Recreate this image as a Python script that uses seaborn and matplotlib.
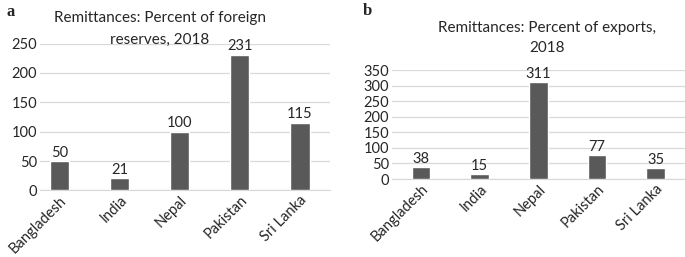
import pandas as pd
import matplotlib.pyplot as plt
import seaborn as sns

# Values
countries = ["Bangladesh", "India", "Nepal", "Pakistan", "Sri Lanka"]
pct_reserves = [50, 21, 100, 231, 115]
pct_exports = [38, 15, 311, 77, 35]

sns.set_style("white")
plt.rcParams["font.family"] = ["Lato", "DejaVu Sans"]

bar_color = "#595959"
grid_color = "#d9d9d9"
text_color = "#262626"
fs = 10.5

fig = plt.figure(figsize=(6.85, 2.57), dpi=100)
ax_a = fig.add_axes([0.0584, 0.2588, 0.4234, 0.5719])
ax_b = fig.add_axes([0.5718, 0.3035, 0.4282, 0.4241])


def draw_panel(ax, values, ymax, xmin):
    df = pd.DataFrame({"country": countries, "value": values})
    sns.barplot(data=df, x="country", y="value", ax=ax, color=bar_color,
                width=0.32, saturation=1)
    ax.set_ylim(0, ymax)
    ax.set_xlim(xmin, 4.5)
    ax.set_yticks(range(0, ymax + 1, 50))
    ax.yaxis.grid(True, color=grid_color, linewidth=0.9)
    ax.set_axisbelow(True)
    for s in ["top", "right", "left"]:
        ax.spines[s].set_visible(False)
    ax.spines["bottom"].set_color(grid_color)
    ax.spines["bottom"].set_zorder(0)
    ax.tick_params(length=0, labelsize=fs, colors=text_color, pad=2)
    ax.set_xlabel("")
    ax.set_ylabel("")
    plt.setp(ax.get_xticklabels(), rotation=45, ha="right", rotation_mode="anchor")
    for i, v in enumerate(values):
        ax.annotate(str(v), (i, v), xytext=(0, 1), textcoords="offset points",
                    ha="center", va="bottom", fontsize=fs, color=text_color)


draw_panel(ax_a, pct_reserves, 250, -0.325)
draw_panel(ax_b, pct_exports, 350, -0.5)

tfs = 11
fig.text(160 / 685, 1 - 18 / 257, "Remittances: Percent of foreign", ha="center",
         va="center", fontsize=tfs, color=text_color)
fig.text(160 / 685, 1 - 40 / 257, "reserves, 2018", ha="center",
         va="center", fontsize=tfs, color=text_color)
fig.text(547 / 685, 1 - 28 / 257, "Remittances: Percent of exports,", ha="center",
         va="center", fontsize=tfs, color=text_color)
fig.text(547 / 685, 1 - 48 / 257, "2018", ha="center",
         va="center", fontsize=tfs, color=text_color)

fig.text(6 / 685, 1 - 12 / 257, "a", fontsize=12, fontweight="bold",
         family="Liberation Serif", va="center")
fig.text(363 / 685, 1 - 11 / 257, "b", fontsize=12, fontweight="bold",
         family="Liberation Serif", va="center")

fig.savefig("out.png", dpi=100)
